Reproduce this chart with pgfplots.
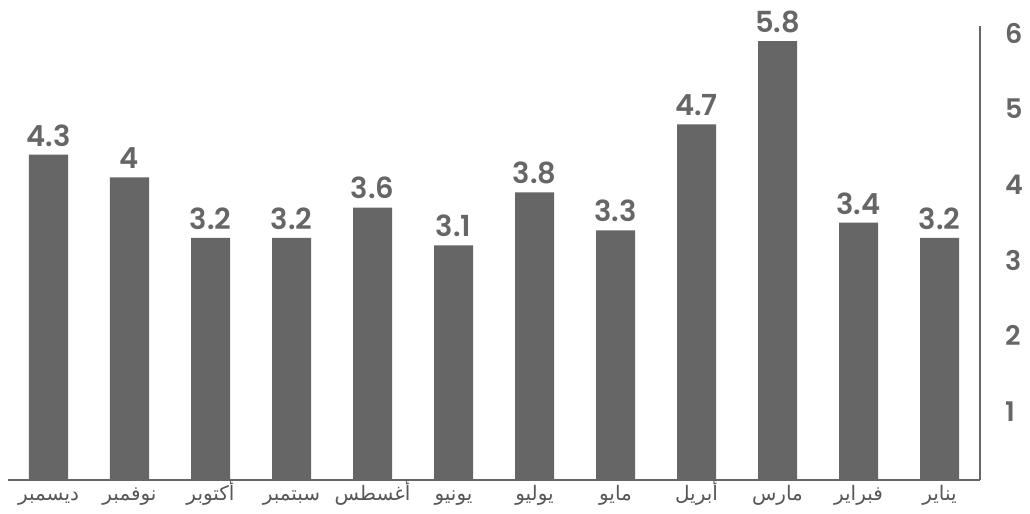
\documentclass[border=0pt]{standalone}
\usepackage{pgfplots}
\pgfplotsset{compat=1.18}
\usepackage{fontspec}
\TeXXeTstate=1
\newfontfamily\arabicfont[Script=Arabic]{DejaVu Sans}
\newfontfamily\numfont{Poppins}[BoldFont={Poppins SemiBold}]
\definecolor{bargray}{HTML}{666666}
\definecolor{txtgray}{HTML}{666666}
\begin{document}
\begin{tikzpicture}
\begin{axis}[
  scale only axis,
  width=486pt, height=227pt,
  xmin=-0.5, xmax=11.5,
  ymin=0, ymax=6,
  axis x line=bottom,
  axis y line=right,
  axis line style={-, draw=bargray, line width=1pt},
  xtick={0,...,11},
  xticklabels={
    {\arabicfont\beginR ديسمبر\endR},
    {\arabicfont\beginR نوفمبر\endR},
    {\arabicfont\beginR أكتوبر\endR},
    {\arabicfont\beginR سبتمبر\endR},
    {\arabicfont\beginR أغسطس\endR},
    {\arabicfont\beginR يونيو\endR},
    {\arabicfont\beginR يوليو\endR},
    {\arabicfont\beginR مايو\endR},
    {\arabicfont\beginR أبريل\endR},
    {\arabicfont\beginR مارس\endR},
    {\arabicfont\beginR فبراير\endR},
    {\arabicfont\beginR يناير\endR}},
  xticklabel style={font=\fontsize{10}{12}\selectfont, text=txtgray!85!black, anchor=base, yshift=-10.5pt},
  major tick length=0pt,
  ytick={1,...,6},
  yticklabel style={font=\numfont\bfseries\fontsize{13.5}{15}\selectfont, text=txtgray, anchor=west, xshift=9pt, yshift=-3.5pt},
  /pgf/number format/assume math mode=true,
  ybar,
  bar width=19.5pt,
  nodes near coords,
  every node near coord/.append style={font=\numfont\bfseries\fontsize{14.5}{16}\selectfont, text=txtgray, inner sep=0pt, yshift=4pt, /pgf/number format/assume math mode=true},
  clip=false,
]
\addplot[fill=bargray, draw=none] coordinates {
(0,4.3) (1,4) (2,3.2) (3,3.2) (4,3.6) (5,3.1) (6,3.8) (7,3.3) (8,4.7) (9,5.8) (10,3.4) (11,3.2)};
\end{axis}
\path (current axis.south west) ++(-4pt,-17pt) rectangle ++(515pt,257pt);
\end{tikzpicture}
\end{document}
